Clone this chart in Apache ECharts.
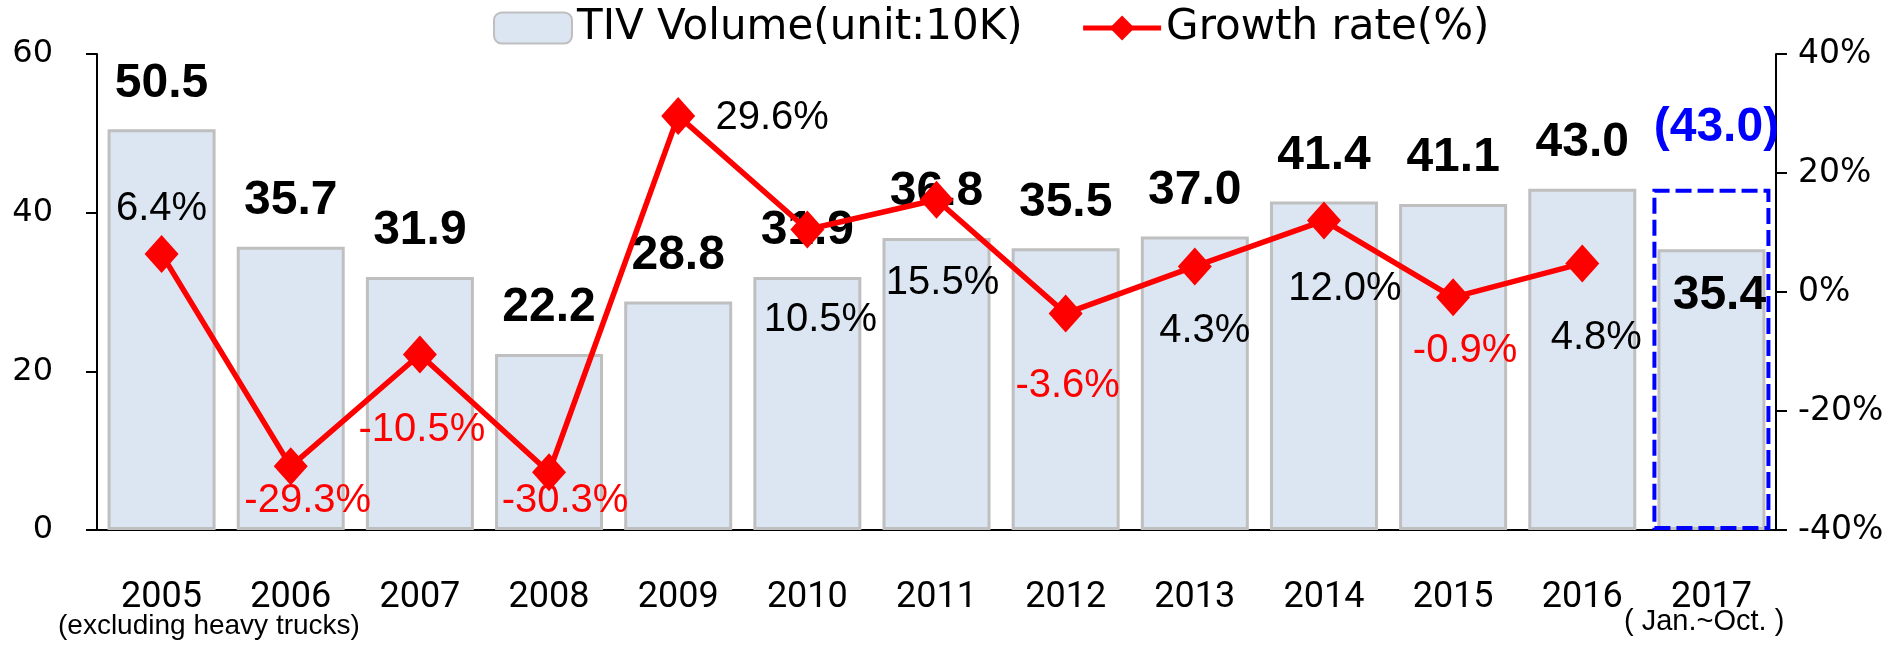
<!DOCTYPE html>
<html>
<head>
<meta charset="utf-8">
<title>TIV Volume and Growth rate</title>
<script src="https://cdn.jsdelivr.net/npm/echarts@6/dist/echarts.min.js"></script>
<style>
  html, body { margin: 0; padding: 0; background: #fff; }
  #chart { width: 1901px; height: 645px; }
</style>
</head>
<body>
<div id="chart"></div>
<script>
// data
const years = ['2005', '2006', '2007', '2008', '2009', '2010', '2011', '2012', '2013', '2014', '2015', '2016', '2017'];
const volume = [50.5, 35.7, 31.9, 22.2, 28.8, 31.9, 36.8, 35.5, 37.0, 41.4, 41.1, 43.0, 35.4];
const growth = [6.4, -29.3, -10.5, -30.3, 29.6, 10.5, 15.5, -3.6, 4.3, 12.0, -0.9, 4.8, null];
const estimate2017 = 43.0;
const volumeTicks = [0, 20, 40, 60];
const growthTicks = [-40, -20, 0, 20, 40];

// where each growth label sits relative to its marker (layout only)
const growthLabelOffset = [
  [0, -45], [17, 35], [2, 75], [16, 29], [94, 2], [13, 90],
  [6, 83], [2, 73], [10, 65], [21, 68], [12, 54], [14, 75], [0, 0]
];

const RED = '#ff0000';
const BLUE = '#0000ff';
const boldLabel = { fontFamily: '"Liberation Sans Narrow", "Arial Narrow", "Liberation Sans", sans-serif', fontWeight: 'bold', fontSize: 48 };
const axisFont = '"DejaVu Sans", sans-serif';
const last = years.length - 1;

const chart = echarts.init(document.getElementById('chart'));

const volumeData = volume.map((v, i) => {
  if (i !== last) return v;
  // the partial-year bar carries its label inside
  return { value: v, label: { position: 'insideTop', distance: 23, offset: [8, 0] } };
});

const estimateData = years.map((y, i) => (i === last ? estimate2017 : '-'));

const growthData = growth.map((g, i) => {
  if (g === null) return '-';
  return {
    value: g,
    label: { offset: growthLabelOffset[i], color: g < 0 ? RED : '#000' }
  };
});

const option = {
  animation: false,
  legend: {
    left: 493,
    top: 7,
    padding: 0,
    itemWidth: 78,
    itemHeight: 31,
    itemGap: 58,
    textStyle: { fontFamily: axisFont, fontSize: 42, color: '#000' },
    lineStyle: { width: 5 },
    data: ['TIV Volume(unit:10K)', 'Growth rate(%)']
  },
  grid: { left: 97, right: 125, top: 54, bottom: 115, containLabel: false },
  xAxis: [
    {
      type: 'category',
      data: years,
      axisLine: { lineStyle: { color: '#000', width: 2 } },
      axisTick: { length: 12, lineStyle: { color: '#000', width: 2 } },
      axisLabel: { margin: 50, color: '#000', fontFamily: 'Roboto, sans-serif', fontSize: 36 }
    },
    { type: 'category', data: years, show: false }
  ],
  yAxis: [
    {
      type: 'value',
      min: volumeTicks[0],
      max: volumeTicks[volumeTicks.length - 1],
      interval: volumeTicks[1] - volumeTicks[0],
      splitLine: { show: false },
      axisLine: { show: true, lineStyle: { color: '#000', width: 2 } },
      axisTick: { show: true, length: 11, lineStyle: { color: '#000', width: 2 } },
      axisLabel: { margin: 44, color: '#000', fontFamily: axisFont, fontSize: 32 }
    },
    {
      type: 'value',
      position: 'right',
      min: growthTicks[0],
      max: growthTicks[growthTicks.length - 1],
      interval: growthTicks[1] - growthTicks[0],
      splitLine: { show: false },
      axisLine: { show: true, lineStyle: { color: '#000', width: 2 } },
      axisTick: { show: true, length: 11, lineStyle: { color: '#000', width: 2 } },
      axisLabel: {
        margin: 22, color: '#000', fontFamily: axisFont, fontSize: 33,
        formatter: '{value}%'
      }
    }
  ],
  series: [
    {
      name: 'TIV Volume(unit:10K)',
      type: 'bar',
      data: volumeData,
      barWidth: 108,
      itemStyle: { color: '#dce6f2', borderColor: '#bfbfbf', borderWidth: 3 },
      label: {
        show: true,
        position: 'top',
        distance: 22,
        color: '#000',
        ...boldLabel,
        formatter: p => Number(p.value).toFixed(1)
      }
    },
    {
      // dashed outline for the full-year 2017 estimate
      type: 'bar',
      xAxisIndex: 1,
      data: estimateData,
      barWidth: 118,
      itemStyle: { color: 'rgba(0,0,0,0)', borderColor: BLUE, borderWidth: 4, borderType: [16, 6] },
      label: {
        show: true,
        position: 'top',
        distance: 37,
        offset: [5, 0],
        color: BLUE,
        ...boldLabel,
        formatter: p => '(' + Number(p.value).toFixed(1) + ')'
      },
      z: 3
    },
    {
      name: 'Growth rate(%)',
      type: 'line',
      yAxisIndex: 1,
      data: growthData,
      symbol: 'diamond',
      symbolSize: [34, 38],
      lineStyle: { color: RED, width: 5.5 },
      itemStyle: { color: RED },
      label: {
        show: true,
        position: 'inside',
        fontFamily: '"Liberation Sans", Arial, sans-serif',
        fontSize: 40,
        formatter: p => Number(p.value).toFixed(1) + '%'
      },
      z: 4
    }
  ],
  graphic: [
    {
      type: 'text',
      left: 58,
      top: 612,
      style: { text: '(excluding heavy trucks)', font: '28px "Liberation Sans", Arial, sans-serif', fill: '#000' }
    },
    {
      type: 'text',
      left: 1624,
      top: 607,
      style: { text: '( Jan.~Oct. )', font: '29px "Liberation Sans", Arial, sans-serif', fill: '#000' }
    }
  ]
};

chart.setOption(option);
</script>
</body>
</html>
